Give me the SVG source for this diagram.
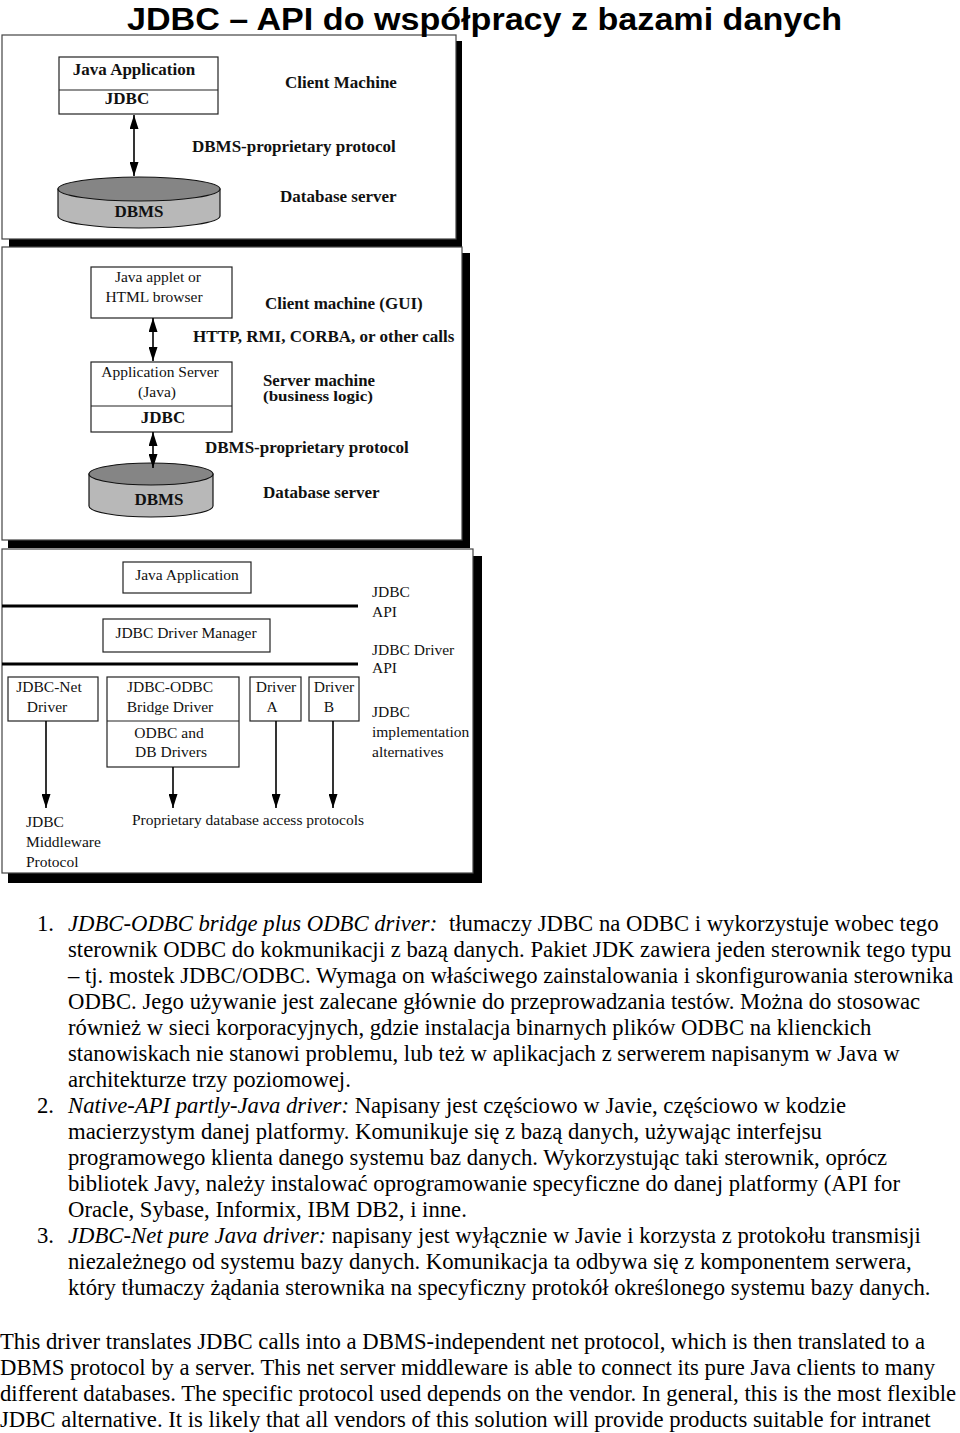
<svg xmlns="http://www.w3.org/2000/svg" width="960" height="1433" viewBox="0 0 960 1433">
<defs>
<marker id="ah" viewBox="0 0 14 9" markerWidth="14" markerHeight="9" refX="14" refY="4.5" orient="auto-start-reverse" markerUnits="userSpaceOnUse"><path d="M0,0 L14,4.5 L0,9 z" fill="#000"/></marker>
<style>
.panel{fill:#fff;stroke:#444;stroke-width:1.2}
.shadow{fill:#000}
.box{fill:#fff;stroke:#222;stroke-width:1.2}
.sep{stroke:#222;stroke-width:1.2}
.b{font-family:"Liberation Serif",serif;font-weight:bold;font-size:17px;fill:#111}
.r{font-family:"Liberation Serif",serif;font-size:15.5px;fill:#111}
.body{font-family:"Liberation Serif",serif;font-size:22.7px;fill:#000}
.it{font-style:italic}
.c{text-anchor:middle}
.cylTop{fill:#858585;stroke:#111;stroke-width:1.2}
.cylSide{fill:#b8b8b8;stroke:#111;stroke-width:1.2}
.conn line{stroke:#000;stroke-width:1.6}
.rule{stroke:#000;stroke-width:3}
</style>
</defs>
<rect x="0" y="0" width="960" height="1433" fill="#fff"/>

<!-- Panel 1 -->
<g id="panel1">
<rect class="shadow" x="9" y="41" width="453" height="206"/>
<rect class="panel" x="2" y="35" width="454" height="204"/>
</g>
<g id="p1-app">
<rect class="box" x="59" y="57" width="159" height="57"/>
<line class="sep" x1="59" y1="90" x2="218" y2="90"/>
<text class="b c" x="134" y="75">Java Application</text>
<text class="b c" x="127" y="104">JDBC</text>
</g>
<g id="p1-dbms">
<path class="cylSide" d="M58,189 L58,216 A81,12 0 0 0 220,216 L220,189 Z"/>
<ellipse class="cylTop" cx="139" cy="189" rx="81" ry="12"/>
<text class="b c" x="139" y="217">DBMS</text>
</g>
<g id="p1-labels">
<text class="b" x="285" y="88">Client Machine</text>
<text class="b" x="192" y="152">DBMS-proprietary protocol</text>
<text class="b" x="280" y="202">Database server</text>
</g>

<!-- Panel 2 -->
<g id="panel2">
<rect class="shadow" x="8" y="253" width="462" height="295"/>
<rect class="panel" x="2" y="247" width="460" height="293"/>
</g>
<g id="p2-client">
<rect class="box" x="91" y="267" width="141" height="51"/>
<text class="r c" x="158" y="282">Java applet or</text>
<text class="r c" x="154" y="302">HTML browser</text>
</g>
<g id="p2-appserver">
<rect class="box" x="91" y="362" width="141" height="70"/>
<line class="sep" x1="91" y1="406" x2="232" y2="406"/>
<text class="r c" x="160" y="377">Application Server</text>
<text class="r c" x="157" y="397">(Java)</text>
<text class="b c" x="163" y="423">JDBC</text>
</g>
<g id="p2-dbms">
<path class="cylSide" d="M89,474 L89,506 A62,11 0 0 0 213,506 L213,474 Z"/>
<ellipse class="cylTop" cx="151" cy="474" rx="62" ry="11"/>
<text class="b c" x="159" y="505">DBMS</text>
</g>
<g id="p2-labels">
<text class="b" x="265" y="309">Client machine (GUI)</text>
<text class="b" x="193" y="342">HTTP, RMI, CORBA, or other calls</text>
<text class="b" x="263" y="386" style="font-size:16px" textLength="112" lengthAdjust="spacingAndGlyphs">Server machine</text>
<text class="b" x="263" y="401" style="font-size:15px" textLength="110" lengthAdjust="spacingAndGlyphs">(business logic)</text>
<text class="b" x="205" y="453">DBMS-proprietary protocol</text>
<text class="b" x="263" y="498">Database server</text>
</g>

<!-- Panel 3 -->
<g id="panel3">
<rect class="shadow" x="8" y="556" width="474" height="327"/>
<rect class="panel" x="2" y="549" width="471" height="324"/>
<line class="rule" x1="2" y1="606" x2="358" y2="606"/>
<line class="rule" x1="2" y1="664" x2="358" y2="664"/>
</g>
<g id="p3-app">
<rect class="box" x="123" y="562" width="128" height="31"/>
<text class="r c" x="187" y="580">Java Application</text>
</g>
<g id="p3-manager">
<rect class="box" x="103" y="619" width="167" height="33"/>
<text class="r c" x="186" y="638">JDBC Driver Manager</text>
</g>
<g id="p3-net">
<rect class="box" x="8" y="677" width="90" height="44"/>
<text class="r c" x="49" y="692">JDBC-Net</text>
<text class="r c" x="47" y="712">Driver</text>
</g>
<g id="p3-odbc">
<rect class="box" x="107" y="677" width="132" height="90"/>
<line class="sep" x1="107" y1="721" x2="239" y2="721"/>
<text class="r c" x="170" y="692">JDBC-ODBC</text>
<text class="r c" x="170" y="712">Bridge Driver</text>
<text class="r c" x="169" y="738">ODBC and</text>
<text class="r c" x="171" y="757">DB Drivers</text>
</g>
<g id="p3-driverA">
<rect class="box" x="250" y="677" width="51" height="44"/>
<text class="r c" x="276" y="692">Driver</text>
<text class="r c" x="272" y="712">A</text>
</g>
<g id="p3-driverB">
<rect class="box" x="309" y="677" width="50" height="44"/>
<text class="r c" x="334" y="692">Driver</text>
<text class="r c" x="329" y="712">B</text>
</g>
<g id="p3-labels">
<text class="r" x="372" y="597">JDBC</text>
<text class="r" x="372" y="617">API</text>
<text class="r" x="372" y="655">JDBC Driver</text>
<text class="r" x="372" y="673">API</text>
<text class="r" x="372" y="717">JDBC</text>
<text class="r" x="372" y="737">implementation</text>
<text class="r" x="372" y="757">alternatives</text>
<text class="r" x="26" y="827">JDBC</text>
<text class="r" x="26" y="847">Middleware</text>
<text class="r" x="26" y="867">Protocol</text>
<text class="r" x="132" y="825">Proprietary database access protocols</text>
</g>

<!-- Connectors -->
<g id="connectors" class="conn">
<line x1="134" y1="115" x2="134" y2="176" marker-start="url(#ah)" marker-end="url(#ah)"/>
<line x1="153" y1="318" x2="153" y2="361" marker-start="url(#ah)" marker-end="url(#ah)"/>
<line x1="153" y1="432" x2="153" y2="468" marker-start="url(#ah)" marker-end="url(#ah)"/>
<line x1="46" y1="721" x2="46" y2="808" marker-end="url(#ah)"/>
<line x1="173" y1="767" x2="173" y2="808" marker-end="url(#ah)"/>
<line x1="276" y1="721" x2="276" y2="808" marker-end="url(#ah)"/>
<line x1="333" y1="721" x2="333" y2="808" marker-end="url(#ah)"/>
</g>

<!-- Title -->
<text x="127" y="30" textLength="715" lengthAdjust="spacingAndGlyphs" style="font-family:'Liberation Sans',Arial,sans-serif;font-weight:bold;font-size:32px;fill:#000">JDBC – API do współpracy z bazami danych</text>

<!-- Body text -->
<g id="body-text" class="body">
<text x="37" y="931">1.</text>
<text x="68" y="931"><tspan class="it">JDBC-ODBC bridge plus ODBC driver:</tspan><tspan dx="6"> tłumaczy JDBC na ODBC i wykorzystuje wobec tego</tspan></text>
<text x="68" y="957">sterownik ODBC do kokmunikacji z bazą danych. Pakiet JDK zawiera jeden sterownik tego typu</text>
<text x="68" y="983">– tj. mostek JDBC/ODBC. Wymaga on właściwego zainstalowania i skonfigurowania sterownika</text>
<text x="68" y="1009">ODBC. Jego używanie jest zalecane głównie do przeprowadzania testów. Można do stosowac</text>
<text x="68" y="1035">również w sieci korporacyjnych, gdzie instalacja binarnych plików ODBC na klienckich</text>
<text x="68" y="1061">stanowiskach nie stanowi problemu, lub też w aplikacjach z serwerem napisanym w Java w</text>
<text x="68" y="1087">architekturze trzy poziomowej.</text>
<text x="37" y="1113">2.</text>
<text x="68" y="1113"><tspan class="it">Native-API partly-Java driver:</tspan> Napisany jest częściowo w Javie, częściowo w kodzie</text>
<text x="68" y="1139">macierzystym danej platformy. Komunikuje się z bazą danych, używając interfejsu</text>
<text x="68" y="1165">programowego klienta danego systemu baz danych. Wykorzystując taki sterownik, oprócz</text>
<text x="68" y="1191">bibliotek Javy, należy instalować oprogramowanie specyficzne do danej platformy (API for</text>
<text x="68" y="1217">Oracle, Sybase, Informix, IBM DB2, i inne.</text>
<text x="37" y="1243">3.</text>
<text x="68" y="1243"><tspan class="it">JDBC-Net pure Java driver:</tspan> napisany jest wyłącznie w Javie i korzysta z protokołu transmisji</text>
<text x="68" y="1269">niezależnego od systemu bazy danych. Komunikacja ta odbywa się z komponentem serwera,</text>
<text x="68" y="1295">który tłumaczy żądania sterownika na specyficzny protokół określonego systemu bazy danych.</text>
<text x="0" y="1349">This driver translates JDBC calls into a DBMS-independent net protocol, which is then translated to a</text>
<text x="0" y="1375">DBMS protocol by a server. This net server middleware is able to connect its pure Java clients to many</text>
<text x="0" y="1401">different databases. The specific protocol used depends on the vendor. In general, this is the most flexible</text>
<text x="0" y="1427">JDBC alternative. It is likely that all vendors of this solution will provide products suitable for intranet</text>
</g>
</svg>
